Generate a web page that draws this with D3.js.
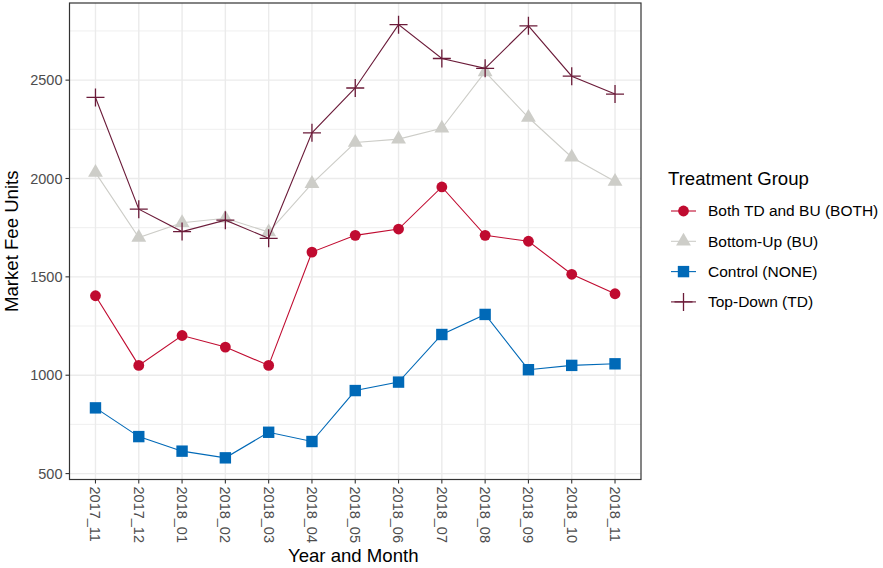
<!DOCTYPE html>
<html>
<head>
<meta charset="utf-8">
<script src="https://cdn.jsdelivr.net/npm/d3@7"></script>
<style>
  body { margin: 0; background: #fff; }
  svg { font-family: "Liberation Sans", Arial, sans-serif; }
  .tick-label { fill: #4d4d4d; font-size: 14.5px; }
  .axis-title { fill: #000; font-size: 18.6px; }
</style>
</head>
<body>
<div id="chart"></div>
<script>
// maanden op de x-as
const months = ["2017_11", "2017_12", "2018_01", "2018_02", "2018_03", "2018_04", "2018_05",
                "2018_06", "2018_07", "2018_08", "2018_09", "2018_10", "2018_11"];

// waarden per groep
const both    = [1404, 1050, 1202, 1143, 1050, 1626, 1711, 1743, 1957, 1711, 1681, 1513, 1414];
const bottomUp = [2030, 1700, 1775, 1798, 1728, 1974, 2183, 2200, 2255, 2542, 2310, 2108, 1985];
const control = [834, 688, 614, 580, 710, 663, 922, 965, 1207, 1309, 1028, 1050, 1058];
const topDown = [2412, 1844, 1730, 1788, 1696, 2232, 2460, 2782, 2610, 2560, 2776, 2520, 2429];

const groups = ["Both TD and BU (BOTH)", "Bottom-Up (BU)", "Control (NONE)", "Top-Down (TD)"];
const yTicks = [500, 1000, 1500, 2000, 2500];

const series = [
    {name: groups[0], values: both, color: "#c00b30", shape: "circle"},
    {name: groups[1], values: bottomUp, color: "#cdcdc8", shape: "triangle"},
    {name: groups[2], values: control, color: "#0069b7", shape: "square"},
    {name: groups[3], values: topDown, color: "#6b1b39", shape: "cross"}
];

const W = 883, H = 568;
const panel = {left: 69.5, right: 641, top: 3, bottom: 479.5};

const svg = d3.select("#chart").append("svg").attr("width", W).attr("height", H);

const x = d3.scalePoint().domain(months).range([panel.left, panel.right]).padding(0.6);

const allVals = series.flatMap(s => s.values);
const ext = d3.extent(allVals);
const pad = (ext[1] - ext[0]) * 0.05;
const y = d3.scaleLinear().domain([ext[0] - pad, ext[1] + pad]).range([panel.bottom, panel.top]);

// --- GRID ---
const grid = svg.append("g");
const minor = d3.range(250, 3000, 500).filter(v => y(v) > panel.top && y(v) < panel.bottom);
grid.selectAll(".minor").data(minor).enter().append("line")
    .attr("x1", panel.left).attr("x2", panel.right)
    .attr("y1", d => y(d)).attr("y2", d => y(d))
    .attr("stroke", "#ebebeb").attr("stroke-width", 0.8);
grid.selectAll(".major-y").data(yTicks).enter().append("line")
    .attr("x1", panel.left).attr("x2", panel.right)
    .attr("y1", d => y(d)).attr("y2", d => y(d))
    .attr("stroke", "#ebebeb").attr("stroke-width", 1.4);
grid.selectAll(".major-x").data(months).enter().append("line")
    .attr("x1", d => x(d)).attr("x2", d => x(d))
    .attr("y1", panel.top).attr("y2", panel.bottom)
    .attr("stroke", "#ebebeb").attr("stroke-width", 1.4);

// --- LIJNEN EN PUNTEN ---
const line = d3.line().x((d, i) => x(months[i])).y(d => y(d));

function drawMarker(g, shape, color) {
    if (shape === "circle") {
        g.append("circle").attr("r", 5.4).attr("fill", color);
    } else if (shape === "triangle") {
        g.append("path").attr("d", d3.symbol(d3.symbolTriangle, 95)()).attr("fill", color);
    } else if (shape === "square") {
        g.append("path").attr("d", d3.symbol(d3.symbolSquare, 130)()).attr("fill", color);
    } else {
        g.append("path").attr("d", "M-9,0H9M0,-9V9").attr("stroke", color).attr("stroke-width", 1.3).attr("fill", "none");
    }
}

series.forEach(s => {
    const g = svg.append("g");
    g.append("path").datum(s.values).attr("d", line)
        .attr("fill", "none").attr("stroke", s.color).attr("stroke-width", 1.1);
    g.selectAll(".pt").data(s.values).enter().append("g")
        .attr("transform", (d, i) => `translate(${x(months[i])},${y(d)})`)
        .each(function() { drawMarker(d3.select(this), s.shape, s.color); });
});

// --- RAND EN ASSEN ---
svg.append("rect").attr("x", panel.left).attr("y", panel.top)
    .attr("width", panel.right - panel.left).attr("height", panel.bottom - panel.top)
    .attr("fill", "none").attr("stroke", "#333").attr("stroke-width", 1.2);

const yAxis = svg.append("g");
yAxis.selectAll("line").data(yTicks).enter().append("line")
    .attr("x1", panel.left - 4).attr("x2", panel.left)
    .attr("y1", d => y(d)).attr("y2", d => y(d)).attr("stroke", "#333").attr("stroke-width", 1.1);
yAxis.selectAll("text").data(yTicks).enter().append("text")
    .attr("class", "tick-label")
    .attr("x", panel.left - 7).attr("y", d => y(d)).attr("dy", "0.35em")
    .attr("text-anchor", "end").text(d => d);

const xAxis = svg.append("g");
xAxis.selectAll("line").data(months).enter().append("line")
    .attr("x1", d => x(d)).attr("x2", d => x(d))
    .attr("y1", panel.bottom).attr("y2", panel.bottom + 4).attr("stroke", "#333").attr("stroke-width", 1.1);
xAxis.selectAll("text").data(months).enter().append("text")
    .attr("class", "tick-label")
    .attr("transform", d => `translate(${x(d)},${panel.bottom + 7}) rotate(90)`)
    .attr("dy", "0.35em").attr("text-anchor", "start").text(d => d);

svg.append("text").attr("class", "axis-title")
    .attr("x", (panel.left + panel.right) / 2 - 2).attr("y", 562)
    .attr("text-anchor", "middle").text("Year and Month");
svg.append("text").attr("class", "axis-title")
    .attr("transform", `translate(18,${(panel.top + panel.bottom) / 2}) rotate(-90)`)
    .attr("text-anchor", "middle").text("Market Fee Units");

// --- LEGENDA ---
const legend = svg.append("g").attr("transform", "translate(668,0)");
legend.append("text").attr("class", "axis-title").attr("x", 0).attr("y", 185).text("Treatment Group");
series.forEach((s, i) => {
    const row = legend.append("g").attr("transform", `translate(0,${211 + i * 30.3})`);
    row.append("line").attr("x1", 3).attr("x2", 28).attr("stroke", s.color).attr("stroke-width", 1.1);
    const m = row.append("g").attr("transform", "translate(15.5,0)");
    drawMarker(m, s.shape, s.color);
    row.append("text").attr("x", 40).attr("dy", "0.35em")
        .attr("font-size", "15.5px").attr("fill", "#000").text(s.name);
});
</script>
</body>
</html>
